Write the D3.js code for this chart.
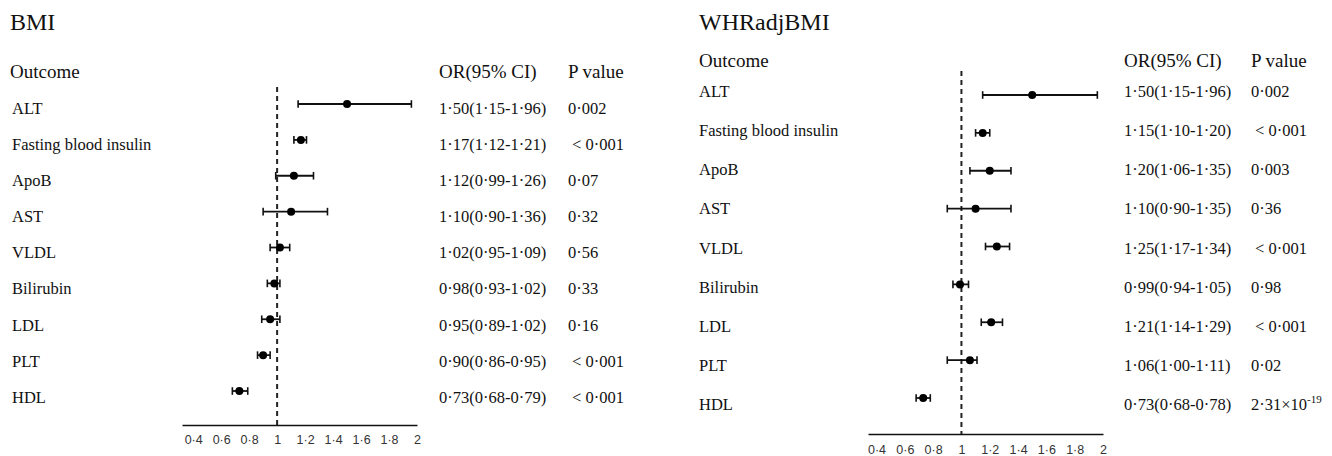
<!DOCTYPE html>
<html>
<head>
<meta charset="utf-8">
<script src="https://cdn.jsdelivr.net/npm/d3@7/dist/d3.min.js"></script>
<style>
  html, body { margin: 0; padding: 0; background: #fff; }
  svg { display: block; }
  .serif { font-family: "Liberation Serif", "Times New Roman", serif; fill: #111; }
  .tick text { font-family: "Liberation Sans", Arial, sans-serif; font-size: 12.5px; fill: #333; }
</style>
</head>
<body>
<svg id="chart"></svg>
<script>
// outcomes, top to bottom
const outcomes = ["ALT", "Fasting blood insulin", "ApoB", "AST", "VLDL", "Bilirubin", "LDL", "PLT", "HDL"];

// BMI panel (drawn values)
const bmiOR = [1.50, 1.17, 1.12, 1.10, 1.02, 0.98, 0.95, 0.90, 0.73];
const bmiLo = [1.15, 1.12, 0.99, 0.90, 0.95, 0.93, 0.89, 0.86, 0.68];
const bmiHi = [1.96, 1.21, 1.26, 1.36, 1.09, 1.02, 1.02, 0.95, 0.79];
const bmiText = ["1·50(1·15-1·96)", "1·17(1·12-1·21)", "1·12(0·99-1·26)", "1·10(0·90-1·36)", "1·02(0·95-1·09)",
                 "0·98(0·93-1·02)", "0·95(0·89-1·02)", "0·90(0·86-0·95)", "0·73(0·68-0·79)"];
const bmiP = ["0·002", "< 0·001", "0·07", "0·32", "0·56", "0·33", "0·16", "< 0·001", "< 0·001"];

// WHRadjBMI panel (drawn values; PLT whisker is drawn from ~0.90 in the figure)
const whrOR = [1.50, 1.15, 1.20, 1.10, 1.25, 0.99, 1.21, 1.06, 0.73];
const whrLo = [1.15, 1.10, 1.06, 0.90, 1.17, 0.94, 1.14, 0.90, 0.68];
const whrHi = [1.96, 1.20, 1.35, 1.35, 1.34, 1.05, 1.29, 1.11, 0.78];
const whrText = ["1·50(1·15-1·96)", "1·15(1·10-1·20)", "1·20(1·06-1·35)", "1·10(0·90-1·35)", "1·25(1·17-1·34)",
                 "0·99(0·94-1·05)", "1·21(1·14-1·29)", "1·06(1·00-1·11)", "0·73(0·68-0·78)"];
const whrP = ["0·002", "< 0·001", "0·003", "0·36", "< 0·001", "0·98", "< 0·001", "0·02", "2·31×10^-19"];

// x axis ticks
const xTicks = [0.4, 0.6, 0.8, 1, 1.2, 1.4, 1.6, 1.8, 2];

const W = 1332, H = 456;
const svg = d3.select("#chart").attr("width", W).attr("height", H);

const dot = v => String(v).replace(".", "·");

function drawPanel(cfg) {
  const g = svg.append("g");
  const data = outcomes.map((name, i) => ({
    name, or: cfg.or[i], lo: cfg.lo[i], hi: cfg.hi[i], txt: cfg.txt[i], p: cfg.p[i]
  }));

  const x = d3.scaleLinear().domain(cfg.domain).range(cfg.xRange);
  const yBar = d3.scalePoint().domain(outcomes).range(cfg.barRange);
  const yText = d3.scalePoint().domain(outcomes).range(cfg.textRange);

  // title + headers
  g.append("text").attr("class", "serif")
    .attr("x", cfg.titleX).attr("y", 30)
    .style("font-size", "24px").text(cfg.title);

  const headers = [
    { t: "Outcome", x: cfg.titleX },
    { t: "OR(95% CI)", x: cfg.orX },
    { t: "P value", x: cfg.pX }
  ];
  g.selectAll(".hdr").data(headers).enter().append("text")
    .attr("class", "serif hdr")
    .attr("x", d => d.x).attr("y", cfg.headerY)
    .style("font-size", "19px").text(d => d.t);

  // outcome labels
  g.selectAll(".lab").data(data).enter().append("text")
    .attr("class", "serif lab")
    .attr("x", cfg.labelX).attr("y", d => yText(d.name))
    .style("font-size", "16.5px").text(d => d.name);

  // OR column
  g.selectAll(".orc").data(data).enter().append("text")
    .attr("class", "serif orc")
    .attr("x", cfg.orX).attr("y", d => yText(d.name))
    .style("font-size", "16.5px")
    .text(d => d.txt);

  // P column
  const pt = g.selectAll(".pc").data(data).enter().append("text")
    .attr("class", "serif pc")
    .attr("x", d => d.p.startsWith("<") ? cfg.pX + 4 : cfg.pX)
    .attr("y", d => yText(d.name))
    .style("font-size", "16.5px");
  pt.each(function(d) {
    const el = d3.select(this);
    if (d.p.includes("^")) {
      const [base, exp] = d.p.split("^");
      el.append("tspan").text(base);
      el.append("tspan").attr("dy", -7).style("font-size", "11px").text(exp);
    } else {
      el.text(d.p);
    }
  });

  // axis
  const axis = g.append("g")
    .attr("transform", "translate(0," + cfg.axisY + ")")
    .call(d3.axisBottom(x).tickValues(xTicks).tickSize(0).tickPadding(cfg.tickPad).tickFormat(dot));
  axis.select(".domain").attr("stroke", "#111").attr("stroke-width", 1.6);

  // reference line at OR = 1
  g.append("line")
    .attr("x1", x(1)).attr("x2", x(1))
    .attr("y1", cfg.refTop).attr("y2", cfg.axisY)
    .attr("stroke", "#222").attr("stroke-width", 2)
    .attr("stroke-dasharray", "5,4");

  // CI lines
  g.selectAll(".ci").data(data).enter().append("line")
    .attr("x1", d => x(d.lo)).attr("x2", d => x(d.hi))
    .attr("y1", d => yBar(d.name)).attr("y2", d => yBar(d.name))
    .attr("stroke", "#111").attr("stroke-width", 1.8);

  // caps
  ["lo", "hi"].forEach(k => {
    g.selectAll(".cap-" + k).data(data).enter().append("line")
      .attr("x1", d => x(d[k])).attr("x2", d => x(d[k]))
      .attr("y1", d => yBar(d.name) - 3.8).attr("y2", d => yBar(d.name) + 3.8)
      .attr("stroke", "#111").attr("stroke-width", 1.6);
  });

  // point estimates
  g.selectAll(".pt").data(data).enter().append("circle")
    .attr("cx", d => x(d.or)).attr("cy", d => yBar(d.name))
    .attr("r", 4).attr("fill", "#000");
}

drawPanel({
  title: "BMI", titleX: 10, labelX: 12, headerY: 78,
  orX: 439, pX: 568,
  or: bmiOR, lo: bmiLo, hi: bmiHi, txt: bmiText, p: bmiP,
  domain: [0.32, 2], xRange: [182, 417],
  barRange: [104, 391], textRange: [113.5, 403],
  axisY: 425, refTop: 87, tickPad: 10
});

drawPanel({
  title: "WHRadjBMI", titleX: 699, labelX: 699, headerY: 67,
  orX: 1124, pX: 1251,
  or: whrOR, lo: whrLo, hi: whrHi, txt: whrText, p: whrP,
  domain: [0.34, 2], xRange: [868, 1103],
  barRange: [95, 398], textRange: [97, 410],
  axisY: 434, refTop: 71, tickPad: 11
});
</script>
</body>
</html>
